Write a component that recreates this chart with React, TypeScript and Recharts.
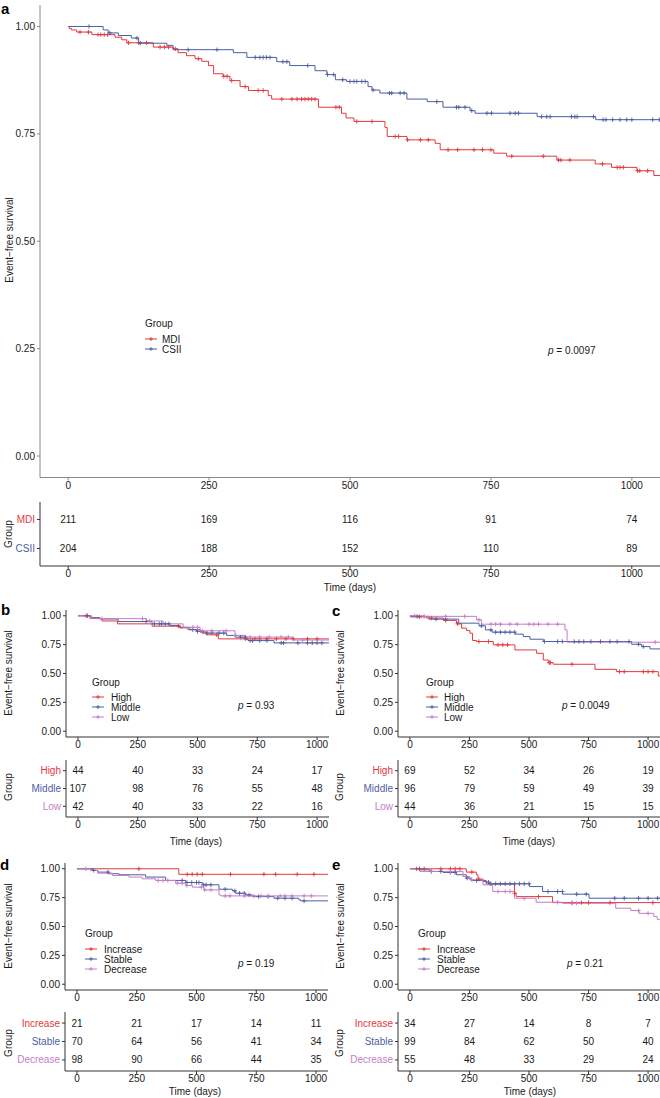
import { ComposedChart, Line, Scatter, XAxis, YAxis } from "recharts";

type Step = [number, number];

const RED = "#e3393d";
const BLUE = "#4e5ea2";
const PURPLE = "#c57ec6";
const FONT = '"Liberation Sans", Arial, Helvetica, sans-serif';

const X_TICKS = [0, 250, 500, 750, 1000];
const Y_TICKS = [0, 0.25, 0.5, 0.75, 1];

// ---- panel a: MDI vs CSII ----
const aMdiSteps: Step[] = [[0, 1], [2, 0.995], [6, 0.992], [15, 0.987], [42, 0.981], [83, 0.975], [95, 0.969], [104, 0.962], [151, 0.952], [186, 0.948], [195, 0.939], [210, 0.932], [225, 0.925], [237, 0.919], [249, 0.909], [258, 0.89], [275, 0.884], [287, 0.874], [305, 0.86], [320, 0.851], [355, 0.839], [361, 0.831], [444, 0.812], [485, 0.798], [493, 0.787], [507, 0.779], [562, 0.765], [566, 0.744], [601, 0.736], [651, 0.728], [660, 0.713], [755, 0.705], [778, 0.698], [867, 0.689], [935, 0.68], [964, 0.672], [1009, 0.664], [1039, 0.653], [1050, 0.653]];
const aMdiCensor = [21, 36, 53, 58, 64, 70, 107, 125, 139, 163, 171, 178, 190, 231, 276, 282, 290, 314, 337, 346, 379, 397, 406, 414, 420, 426, 432, 438, 475, 481, 512, 539, 580, 586, 602, 625, 639, 674, 691, 720, 735, 750, 787, 843, 870, 874, 890, 948, 974, 979, 985, 1010, 1014, 1028];
const aCsiiSteps: Step[] = [[0, 1], [62, 0.992], [71, 0.985], [89, 0.979], [112, 0.973], [125, 0.961], [175, 0.956], [186, 0.946], [293, 0.939], [317, 0.928], [370, 0.918], [393, 0.909], [438, 0.897], [459, 0.888], [474, 0.876], [494, 0.872], [532, 0.86], [539, 0.852], [553, 0.845], [601, 0.831], [637, 0.825], [665, 0.812], [713, 0.804], [722, 0.798], [832, 0.79], [936, 0.783], [1050, 0.783]];
const aCsiiCensor = [37, 74, 122, 128, 213, 264, 332, 340, 346, 352, 358, 381, 388, 425, 460, 471, 487, 500, 507, 512, 521, 527, 541, 570, 574, 589, 596, 654, 689, 693, 704, 716, 743, 751, 784, 793, 799, 840, 849, 855, 893, 899, 903, 932, 949, 954, 966, 979, 991, 1000, 1037, 1049];
const aMdiRisk = [211, 169, 116, 91, 74];
const aCsiiRisk = [204, 188, 152, 110, 89];

// ---- panel b ----
const bHighSteps: Step[] = [[0, 1], [50, 0.977], [100, 0.955], [165, 0.93], [310, 0.91], [426, 0.895], [460, 0.88], [511, 0.86], [537, 0.835], [587, 0.8], [1050, 0.8]];
const bHighCensor = [34, 420, 520, 580, 700, 740, 760, 790, 830, 870, 900, 960, 1000];
const bMiddleSteps: Step[] = [[0, 1], [55, 0.984], [92, 0.972], [168, 0.95], [310, 0.93], [385, 0.915], [427, 0.9], [468, 0.88], [496, 0.865], [524, 0.85], [622, 0.83], [657, 0.815], [705, 0.795], [712, 0.785], [820, 0.765], [1050, 0.765]];
const bMiddleCensor = [40, 285, 320, 340, 350, 365, 380, 480, 500, 540, 560, 590, 610, 680, 700, 720, 730, 760, 790, 850, 860, 920, 960, 980, 1000, 1020];
const bLowSteps: Step[] = [[0, 1], [57, 0.975], [287, 0.955], [356, 0.93], [440, 0.9], [511, 0.87], [657, 0.83], [700, 0.815], [900, 0.79], [1050, 0.79]];
const bLowCensor = [100, 270, 300, 480, 500, 520, 560, 620, 660, 720, 760, 800, 850, 880, 940];
const bHighRisk = [44, 40, 33, 24, 17];
const bMiddleRisk = [107, 98, 76, 55, 48];
const bLowRisk = [42, 40, 33, 22, 16];

// ---- panel c ----
const cHighSteps: Step[] = [[0, 1], [3, 0.99], [70, 0.98], [140, 0.96], [196, 0.93], [217, 0.893], [238, 0.872], [252, 0.849], [263, 0.786], [280, 0.777], [350, 0.748], [441, 0.704], [532, 0.675], [560, 0.617], [581, 0.594], [602, 0.58], [777, 0.536], [868, 0.516], [1043, 0.478], [1050, 0.478]];
const cHighCensor = [40, 90, 150, 200, 290, 330, 370, 390, 410, 585, 590, 680, 880, 900, 980, 1000, 1020];
const cMiddleSteps: Step[] = [[0, 1], [5, 0.995], [80, 0.971], [205, 0.936], [290, 0.913], [317, 0.878], [345, 0.858], [441, 0.841], [476, 0.82], [504, 0.797], [560, 0.777], [931, 0.753], [973, 0.733], [1008, 0.713], [1050, 0.713]];
const cMiddleCensor = [30, 110, 150, 300, 340, 360, 380, 400, 420, 440, 565, 620, 640, 690, 710, 730, 760, 800, 840, 870, 920, 960, 980];
const cLowSteps: Step[] = [[0, 1], [60, 0.995], [280, 0.965], [301, 0.927], [651, 0.878], [660, 0.771], [1050, 0.771]];
const cLowCensor = [20, 60, 150, 230, 290, 340, 360, 380, 420, 450, 500, 520, 540, 580, 620, 1030];
const cHighRisk = [69, 52, 34, 26, 19];
const cMiddleRisk = [96, 79, 59, 49, 39];
const cLowRisk = [44, 36, 21, 15, 15];

// ---- panel d ----
const dIncSteps: Step[] = [[0, 1], [426, 0.952], [1050, 0.952]];
const dIncCensor = [259, 461, 482, 503, 524, 642, 782, 831, 921, 991];
const dStableSteps: Step[] = [[0, 1], [64, 0.986], [87, 0.971], [134, 0.957], [176, 0.948], [287, 0.928], [371, 0.899], [455, 0.881], [524, 0.861], [594, 0.823], [650, 0.809], [664, 0.788], [705, 0.774], [733, 0.759], [824, 0.745], [928, 0.731], [935, 0.722], [1050, 0.722]];
const dStableCensor = [70, 130, 440, 460, 480, 500, 510, 530, 540, 560, 620, 660, 680, 700, 720, 760, 800, 840, 870, 900, 950];
const dDecSteps: Step[] = [[0, 1], [57, 0.985], [87, 0.962], [148, 0.942], [218, 0.928], [273, 0.913], [329, 0.899], [413, 0.875], [455, 0.855], [483, 0.841], [531, 0.817], [594, 0.774], [601, 0.765], [1050, 0.765]];
const dDecCensor = [37, 340, 360, 380, 420, 440, 460, 520, 535, 560, 620, 640, 700, 740, 770, 800, 850, 870, 900, 950, 980];
const dIncRisk = [21, 21, 17, 14, 11];
const dStableRisk = [70, 64, 56, 41, 34];
const dDecRisk = [98, 90, 66, 44, 35];

// ---- panel e ----
const eIncSteps: Step[] = [[0, 1], [237, 0.971], [279, 0.948], [286, 0.91], [307, 0.89], [320, 0.867], [439, 0.788], [446, 0.759], [599, 0.707], [1050, 0.707]];
const eIncCensor = [28, 60, 130, 170, 190, 210, 260, 290, 440, 540, 680, 720, 750, 840, 1020];
const eStableSteps: Step[] = [[0, 1], [42, 0.991], [84, 0.977], [139, 0.968], [195, 0.948], [237, 0.919], [258, 0.899], [320, 0.884], [334, 0.87], [502, 0.846], [557, 0.803], [641, 0.78], [752, 0.745], [1050, 0.745]];
const eStableCensor = [40, 90, 130, 170, 190, 240, 280, 330, 340, 360, 380, 400, 420, 440, 460, 480, 500, 580, 620, 640, 700, 740, 860, 900, 960, 1000, 1040];
const eDecSteps: Step[] = [[0, 1], [42, 0.977], [223, 0.933], [251, 0.904], [307, 0.861], [348, 0.803], [439, 0.745], [530, 0.71], [641, 0.701], [864, 0.658], [927, 0.638], [962, 0.614], [1024, 0.586], [1038, 0.562], [1050, 0.562]];
const eDecCensor = [90, 170, 260, 370, 400, 420, 480, 620, 680, 700, 960, 1000];
const eIncRisk = [34, 27, 14, 8, 7];
const eStableRisk = [99, 84, 62, 50, 40];
const eDecRisk = [55, 48, 33, 29, 24];

interface Group {
  name: string;
  color: string;
  steps: Step[];
  censor: number[];
  risk: number[];
}

const groupsA: Group[] = [
  { name: "MDI", color: RED, steps: aMdiSteps, censor: aMdiCensor, risk: aMdiRisk },
  { name: "CSII", color: BLUE, steps: aCsiiSteps, censor: aCsiiCensor, risk: aCsiiRisk },
];
const groupsB: Group[] = [
  { name: "High", color: RED, steps: bHighSteps, censor: bHighCensor, risk: bHighRisk },
  { name: "Middle", color: BLUE, steps: bMiddleSteps, censor: bMiddleCensor, risk: bMiddleRisk },
  { name: "Low", color: PURPLE, steps: bLowSteps, censor: bLowCensor, risk: bLowRisk },
];
const groupsC: Group[] = [
  { name: "High", color: RED, steps: cHighSteps, censor: cHighCensor, risk: cHighRisk },
  { name: "Middle", color: BLUE, steps: cMiddleSteps, censor: cMiddleCensor, risk: cMiddleRisk },
  { name: "Low", color: PURPLE, steps: cLowSteps, censor: cLowCensor, risk: cLowRisk },
];
const groupsD: Group[] = [
  { name: "Increase", color: RED, steps: dIncSteps, censor: dIncCensor, risk: dIncRisk },
  { name: "Stable", color: BLUE, steps: dStableSteps, censor: dStableCensor, risk: dStableRisk },
  { name: "Decrease", color: PURPLE, steps: dDecSteps, censor: dDecCensor, risk: dDecRisk },
];
const groupsE: Group[] = [
  { name: "Increase", color: RED, steps: eIncSteps, censor: eIncCensor, risk: eIncRisk },
  { name: "Stable", color: BLUE, steps: eStableSteps, censor: eStableCensor, risk: eStableRisk },
  { name: "Decrease", color: PURPLE, steps: eDecSteps, censor: eDecCensor, risk: eDecRisk },
];

// KM survival at time t (value of the last step at or before t)
function survAt(steps: Step[], t: number) {
  let s = steps[0][1];
  for (const [st, sv] of steps) if (st <= t) s = sv;
  return s;
}

const plusShape = (color: string) => (p: any) => (
  <path d={`M${p.cx - 2.2},${p.cy}h4.4M${p.cx},${p.cy - 2.2}v4.4`} stroke={color} strokeWidth={0.9} fill="none" />
);

interface Box { x: number; y: number; w: number; h: number }

function KMPlot({ box, groups, axisColor }: { box: Box; groups: Group[]; axisColor: string }) {
  const yW = 40, mt = 6, xH = 20;
  const tickStyle = { fontSize: 10, fill: "#1a1a1a", fontFamily: FONT };
  return (
    <div style={{ position: "absolute", left: box.x - yW, top: box.y - mt }}>
      <ComposedChart width={box.w + yW} height={box.h + mt + xH} margin={{ top: mt, right: 0, bottom: 0, left: 0 }}>
        <XAxis type="number" dataKey="t" domain={[-50, 1050]} ticks={X_TICKS} interval={0} allowDataOverflow
          height={xH} tickSize={3} tickMargin={1} tick={tickStyle}
          axisLine={{ stroke: axisColor, strokeWidth: 1 }} tickLine={{ stroke: axisColor }} />
        <YAxis type="number" dataKey="s" domain={[-0.05, 1.05]} ticks={Y_TICKS} interval={0} allowDataOverflow
          width={yW} tickSize={3} tickMargin={2} tick={tickStyle} tickFormatter={(v: number) => v.toFixed(2)}
          axisLine={{ stroke: axisColor, strokeWidth: 1 }} tickLine={{ stroke: axisColor }} />
        {groups.map((g) => (
          <Line key={g.name} name={g.name} data={g.steps.map(([t, s]) => ({ t, s }))} dataKey="s"
            type="stepAfter" stroke={g.color} strokeWidth={1} dot={false} activeDot={false} isAnimationActive={false} />
        ))}
        {groups.map((g) => (
          <Scatter key={g.name + "-censor"} name={g.name + " censor"} data={g.censor.map((t) => ({ t, s: survAt(g.steps, t) }))}
            dataKey="s" shape={plusShape(g.color)} isAnimationActive={false} />
        ))}
      </ComposedChart>
    </div>
  );
}

function RiskTable({ box, groups, yW }: { box: Box; groups: Group[]; yW: number }) {
  const mt = 6, xH = 20;
  const rows = groups.flatMap((g, i) => X_TICKS.map((t, j) => ({ t, row: i + 1, n: g.risk[j], color: g.color })));
  return (
    <div style={{ position: "absolute", left: box.x - yW, top: box.y - mt }}>
      <ComposedChart width={box.w + yW} height={box.h + mt + xH} margin={{ top: mt, right: 0, bottom: 0, left: 0 }}>
        <XAxis type="number" dataKey="t" domain={[-50, 1050]} ticks={X_TICKS} interval={0} allowDataOverflow
          height={xH} tickSize={3} tickMargin={1} tick={{ fontSize: 10, fill: "#1a1a1a", fontFamily: FONT }}
          axisLine={{ stroke: "#333" }} tickLine={{ stroke: "#333" }} />
        <YAxis type="number" dataKey="row" domain={[0.4, groups.length + 0.6]} reversed allowDataOverflow
          ticks={groups.map((_, i) => i + 1)} interval={0} width={yW} tickSize={3} tickMargin={2}
          axisLine={{ stroke: "#333" }} tickLine={{ stroke: "#333" }}
          tick={(p: any) => {
            const g = groups[p.payload.value - 1];
            return (
              <text x={p.x} y={p.y} dy="0.35em" textAnchor="end" fill={g ? g.color : "#000"} fontSize={10} fontFamily={FONT}>
                {g ? g.name : ""}
              </text>
            );
          }} />
        <Scatter data={rows} dataKey="row" isAnimationActive={false}
          shape={(p: any) => (
            <text x={p.cx} y={p.cy} dy="0.35em" textAnchor="middle" fontSize={10} fill="#1a1a1a" fontFamily={FONT}>
              {p.payload.n}
            </text>
          )} />
      </ComposedChart>
    </div>
  );
}

interface Decor {
  letter: string; lx: number; ly: number;
  yTitle: [number, number];
  legX: number; legTitleY: number; legRows: number[]; legTextX: number;
  p: string; px: number; py: number;
  groupTitle: [number, number];
  time: [number, number];
}

function Overlay({ d, groups }: { d: Decor; groups: Group[] }) {
  return (
    <g fontFamily={FONT} fill="#1a1a1a">
      <text x={d.lx} y={d.ly} fontSize={15} fontWeight="bold" fill="#000">{d.letter}</text>
      <text transform={`translate(${d.yTitle[0]},${d.yTitle[1]}) rotate(-90)`} textAnchor="middle" dominantBaseline="central" fontSize={10}>
        Event−free survival
      </text>
      <text x={d.legX} y={d.legTitleY} dominantBaseline="central" fontSize={10}>Group</text>
      {groups.map((g, i) => (
        <g key={g.name}>
          <line x1={d.legX} x2={d.legX + 12} y1={d.legRows[i]} y2={d.legRows[i]} stroke={g.color} strokeWidth={1} />
          <path d={`M${d.legX + 4},${d.legRows[i]}h4M${d.legX + 6},${d.legRows[i] - 2}v4`} stroke={g.color} strokeWidth={0.9} />
          <text x={d.legTextX} y={d.legRows[i]} dominantBaseline="central" fontSize={10}>{g.name}</text>
        </g>
      ))}
      <text x={d.px} y={d.py} dominantBaseline="central" fontSize={10}>
        <tspan fontStyle="italic">p</tspan> = {d.p}
      </text>
      <text transform={`translate(${d.groupTitle[0]},${d.groupTitle[1]}) rotate(-90)`} textAnchor="middle" dominantBaseline="central" fontSize={10}>
        Group
      </text>
      <text x={d.time[0]} y={d.time[1]} textAnchor="middle" dominantBaseline="central" fontSize={10}>Time (days)</text>
    </g>
  );
}

const decorA: Decor = { letter: "a", lx: 1, ly: 14, yTitle: [9, 240], legX: 145, legTitleY: 323, legRows: [339, 349], legTextX: 162, p: "0.0097", px: 548, py: 350, groupTitle: [8, 534], time: [350, 587] };
const decorB: Decor = { letter: "b", lx: 1, ly: 615, yTitle: [8, 673], legX: 92, legTitleY: 682, legRows: [697, 707, 717], legTextX: 111, p: "0.93", px: 238, py: 705, groupTitle: [8, 787], time: [196, 841] };
const decorC: Decor = { letter: "c", lx: 332, ly: 616, yTitle: [340, 673], legX: 426, legTitleY: 682, legRows: [697, 707, 717], legTextX: 444, p: "0.0049", px: 562, py: 705, groupTitle: [339, 787], time: [529, 841] };
const decorD: Decor = { letter: "d", lx: 0, ly: 870, yTitle: [8, 926], legX: 85, legTitleY: 933, legRows: [949, 959, 969], legTextX: 104, p: "0.19", px: 238, py: 963, groupTitle: [8, 1043], time: [195, 1091] };
const decorE: Decor = { letter: "e", lx: 332, ly: 870, yTitle: [340, 926], legX: 418, legTitleY: 933, legRows: [949, 959, 969], legTextX: 437, p: "0.21", px: 567, py: 963, groupTitle: [339, 1043], time: [530, 1091] };

export default function App() {
  return (
    <div style={{ position: "absolute", left: 0, top: 0, width: 660, height: 1098, overflow: "hidden", background: "#fff", fontFamily: FONT }}>
      <KMPlot box={{ x: 40, y: 4.5, w: 620, h: 472.5 }} groups={groupsA} axisColor="#888" />
      <RiskTable box={{ x: 40, y: 502, w: 620, h: 64 }} groups={groupsA} yW={40} />

      <KMPlot box={{ x: 66, y: 610, w: 263, h: 127 }} groups={groupsB} axisColor="#333" />
      <RiskTable box={{ x: 66, y: 760, w: 263, h: 57 }} groups={groupsB} yW={60} />

      <KMPlot box={{ x: 398, y: 610, w: 262, h: 127 }} groups={groupsC} axisColor="#333" />
      <RiskTable box={{ x: 398, y: 760, w: 262, h: 57 }} groups={groupsC} yW={60} />

      <KMPlot box={{ x: 65, y: 863, w: 263, h: 127 }} groups={groupsD} axisColor="#333" />
      <RiskTable box={{ x: 65, y: 1012, w: 263, h: 59 }} groups={groupsD} yW={60} />

      <KMPlot box={{ x: 398, y: 863, w: 262, h: 127 }} groups={groupsE} axisColor="#333" />
      <RiskTable box={{ x: 398, y: 1012, w: 262, h: 59 }} groups={groupsE} yW={60} />

      <svg width={660} height={1098} style={{ position: "absolute", left: 0, top: 0, pointerEvents: "none" }}>
        <Overlay d={decorA} groups={groupsA} />
        <Overlay d={decorB} groups={groupsB} />
        <Overlay d={decorC} groups={groupsC} />
        <Overlay d={decorD} groups={groupsD} />
        <Overlay d={decorE} groups={groupsE} />
      </svg>
    </div>
  );
}
